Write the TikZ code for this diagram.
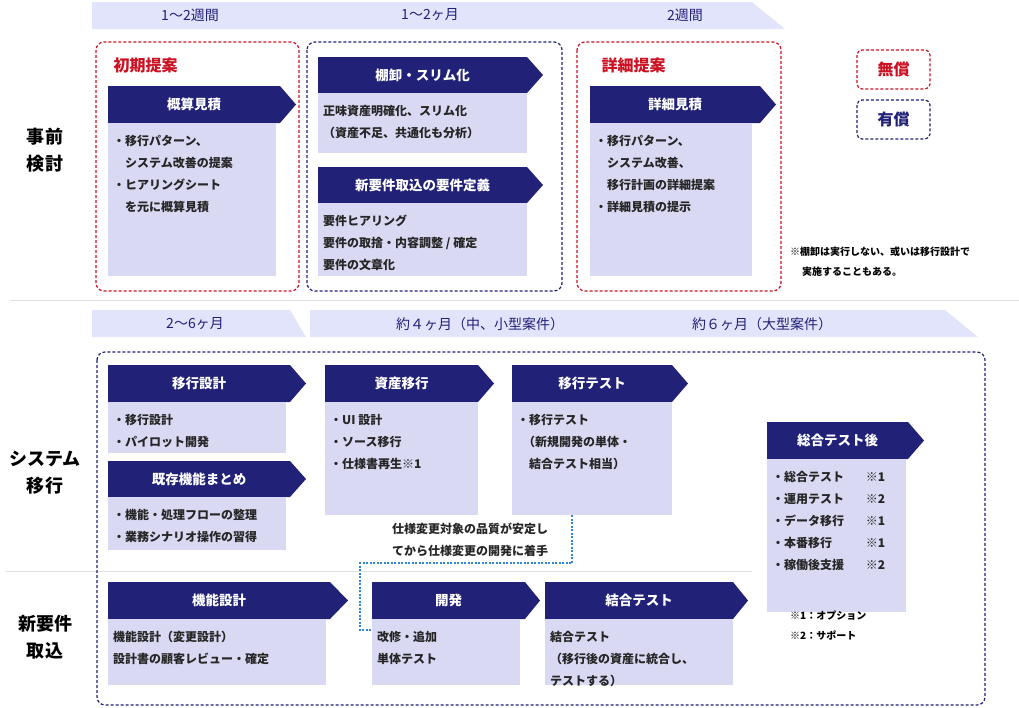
\documentclass[tikz,border=0pt]{standalone}
\usepackage{fontspec}
\setmainfont{Noto Sans CJK JP}
\usetikzlibrary{positioning}
\definecolor{navy}{HTML}{212178}
\definecolor{bodyfill}{HTML}{D9D9F3}
\definecolor{bandfill}{HTML}{E1E4FA}
\definecolor{redline}{HTML}{CC1122}
\definecolor{skyline}{HTML}{2F86D8}
% header arrow: name, x1, x2, ytop, ybot, tip x, text
\newcommand\hdr[7]{%
  \fill[navy] (#2,#4) -- (#3,#4) -- (#6,{(#4+#5)/2}) -- (#3,#5) -- (#2,#5) -- cycle;
  \node[hdrtext] (#1) at ({(#2+#3)/2},{(#4+#5)/2}) {#7};}
% body box: name, x1, x2, ytop, ybot, text
\newcommand\bdy[6]{%
  \fill[bodyfill] (#2,#4) rectangle (#3,#5);
  \node[bodytext] (#1) at ({#2+5},{#4+12}) {#6};}
\begin{document}
\begin{tikzpicture}[
    x = 1pt, y = -1pt,
    hdrtext/.style = {text = white, font = \fontsize{13.5}{16}\selectfont\bfseries},
    bodytext/.style = {anchor = north west, align = left, inner sep = 0pt,
      font = \fontsize{12}{22}\selectfont\bfseries, text = black!85},
    bandtext/.style = {text = navy, font = \fontsize{14}{16}\selectfont},
    sidetext/.style = {align = center, font = \fontsize{18}{27}\selectfont\bfseries},
    reddash/.style = {draw = redline, line width = 1.2pt, dash pattern = on 3pt off 2pt, rounded corners = 8pt},
    bluedash/.style = {draw = navy, line width = 1.2pt, dash pattern = on 3pt off 2pt, rounded corners = 8pt},
    notetext/.style = {anchor = west, align = left, inner sep = 0pt,
      font = \fontsize{10}{20}\selectfont\bfseries},
    ]
    \useasboundingbox (0,0) rectangle (1019,707);

    % time bands
    \fill[bandfill] (92,2) -- (752,2) -- (785,29) -- (92,29) -- cycle;
    \node[bandtext] (t1) at (190,15) {1～2週間};
    \node[bandtext] (t2) at (430,15) {1～2ヶ月};
    \node[bandtext] (t3) at (685,15) {2週間};
    \fill[bandfill] (92,310) -- (290,310) -- (306,337) -- (92,337) -- cycle;
    \fill[bandfill] (310,310) -- (945,310) -- (978,337) -- (310,337) -- cycle;
    \node[bandtext] (t4) at (195,324) {2～6ヶ月};
    \node[bandtext] (t5) at (480,324) {約４ヶ月（中、小型案件）};
    \node[bandtext] (t6) at (762,324) {約６ヶ月（大型案件）};

    % separators
    \draw[black!12, line width = 1pt] (10,300) -- (1019,300);
    \draw[black!12, line width = 1pt] (5,571) -- (752,571);

    % side labels
    \node[sidetext] (s1) at (45,150) {事前\\検討};
    \node[sidetext] (s2) at (45,473) {システム\\移行};
    \node[sidetext] (s3) at (45,637) {新要件\\取込};

    % pre-study
    \draw[reddash] (96,42) rectangle (299,291);
    \node[text = redline, font = \fontsize{16}{18}\selectfont\bfseries, anchor = west] (p1) at (110,65) {初期提案};
    \hdr{h1}{108}{280}{86}{123}{296}{概算見積}
    \bdy{b1}{108}{276}{123}{276}{・移行パターン、\\\hspace*{1em}システム改善の提案\\・ヒアリングシート\\\hspace*{1em}を元に概算見積}

    \draw[bluedash] (307,42) rectangle (562,291);
    \hdr{h2}{318}{527}{57}{93}{543}{棚卸・スリム化}
    \bdy{b2}{318}{527}{93}{153}{正味資産明確化、スリム化\\（資産不足、共通化も分析）}
    \hdr{h3}{318}{527}{167}{203}{543}{新要件取込の要件定義}
    \bdy{b3}{318}{527}{203}{276}{要件ヒアリング\\要件の取捨・内容調整 / 確定\\要件の文章化}

    \draw[reddash] (577,42) rectangle (781,291);
    \node[text = redline, font = \fontsize{16}{18}\selectfont\bfseries, anchor = west] (p2) at (598,65) {詳細提案};
    \hdr{h4}{590}{760}{86}{123}{776}{詳細見積}
    \bdy{b4}{590}{752}{123}{276}{・移行パターン、\\\hspace*{1em}システム改善、\\\hspace*{1em}移行計画の詳細提案\\・詳細見積の提示}

    % legend
    \draw[reddash, rounded corners = 5pt] (857,50) rectangle (930,89);
    \node[text = redline, font = \fontsize{16}{18}\selectfont\bfseries] (free) at (893.5,69.5) {無償};
    \draw[bluedash, rounded corners = 5pt] (857,100) rectangle (930,139);
    \node[text = navy, font = \fontsize{16}{18}\selectfont\bfseries] (paid) at (893.5,119.5) {有償};
    \node[notetext] (n1) at (790,262) {※棚卸は実行しない、或いは移行設計で\\\hspace*{1.2em}実施することもある。};

    % migration
    \draw[bluedash] (97,352) rectangle (985,705);
    \hdr{h5}{108}{290}{365}{402}{306}{移行設計}
    \bdy{b5}{108}{286}{402}{453}{・移行設計\\・パイロット開発}
    \hdr{h6}{108}{290}{461}{497}{306}{既存機能まとめ}
    \bdy{b6}{108}{286}{497}{550}{・機能・処理フローの整理\\・業務シナリオ操作の習得}
    \hdr{h7}{325}{478}{365}{402}{494}{資産移行}
    \bdy{b7}{325}{478}{402}{515}{・UI 設計\\・ソース移行\\・仕様書再生※1}
    \hdr{h8}{512}{672}{365}{402}{688}{移行テスト}
    \bdy{b8}{512}{672}{402}{515}{・移行テスト\\\hspace*{0.5em}（新規開発の単体・\\\hspace*{1em}結合テスト相当）}
    \hdr{h9}{767}{908}{422}{459}{924}{総合テスト後}
    \bdy{b9}{767}{906}{459}{612}{・総合テスト\hspace{1.8em}※1\\・運用テスト\hspace{1.8em}※2\\・データ移行\hspace{1.8em}※1\\・本番移行\hspace{2.8em}※1\\・稼働後支援\hspace{1.8em}※2}

    \node[bodytext, anchor = center, align = left] (cond) at (470,540) {仕様変更対象の品質が安定し\\てから仕様変更の開発に着手};
    \coordinate (c1) at (572,515);
    \coordinate (c2) at (372,630);
    \draw[skyline, line width = 1.2pt, dash pattern = on 2pt off 1.5pt] (c1) |- (360,563) |- (c2);

    % new requirements
    \hdr{h10}{108}{330}{582}{619}{348}{機能設計}
    \bdy{b10}{108}{326}{619}{685}{機能設計（変更設計）\\設計書の顧客レビュー・確定}
    \hdr{h11}{372}{525}{582}{619}{540}{開発}
    \bdy{b11}{372}{520}{619}{685}{改修・追加\\単体テスト}
    \hdr{h12}{545}{733}{582}{619}{748}{結合テスト}
    \bdy{b12}{545}{733}{619}{685}{結合テスト\\（移行後の資産に統合し、\\テストする）}

    \node[notetext] (n2) at (790,626) {※1：オプション\\※2：サポート};
\end{tikzpicture}
\end{document}
